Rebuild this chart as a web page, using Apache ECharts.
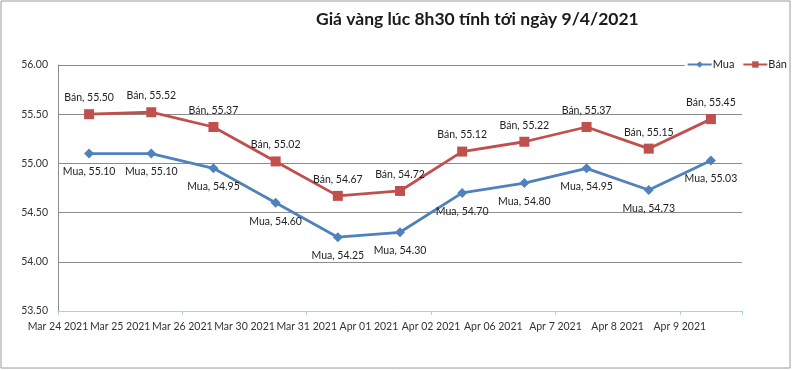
<!DOCTYPE html>
<html><head><meta charset="utf-8">
<script src="https://cdn.jsdelivr.net/npm/echarts@6/dist/echarts.min.js"></script>
<style>html,body{margin:0;padding:0;background:#fff}#c{width:800px;height:370px}</style>
</head><body><div id="c"></div>
<script>
const categories = ['Mar 24 2021','Mar 25 2021','Mar 26 2021','Mar 30 2021','Mar 31 2021','Apr 01 2021','Apr 02 2021','Apr 06 2021','Apr 7 2021','Apr 8 2021','Apr 9 2021'];
const muaValues = [55.10, 55.10, 54.95, 54.60, 54.25, 54.30, 54.70, 54.80, 54.95, 54.73, 55.03];
const banValues = [55.50, 55.52, 55.37, 55.02, 54.67, 54.72, 55.12, 55.22, 55.37, 55.15, 55.45];
const yTicks = [53.5, 54.0, 54.5, 55.0, 55.5, 56.0];
const titleText = 'Giá vàng lúc 8h30 tính tới ngày 9/4/2021';

const FONT = 'Lato, "Open Sans", sans-serif';
const chart = echarts.init(document.getElementById('c'));
const lbl = p => p.seriesName + ', ' + Number(p.value).toFixed(2);
chart.setOption({
  animation: false,
  backgroundColor: '#fff',
  title: {
    text: titleText, left: 311, top: 5,
    textStyle: {fontFamily: FONT, fontSize: 17.5, fontWeight: 'bold', color: '#1a1a1a'}
  },
  legend: {
    right: 11, top: 57, itemWidth: 24, itemHeight: 8, itemGap: 8,
    backgroundColor: '#fff', padding: [2, 2],
    textStyle: {fontFamily: FONT, fontSize: 11, color: '#222', padding: [0, 0, 0, -4]},
    data: ['Mua', 'Bán']
  },
  graphic: [{
    type: 'rect', shape: {x: 1, y: 1, width: 789, height: 367},
    style: {fill: 'none', stroke: '#9a9a9a', lineWidth: 1}, z: -1
  }],
  grid: {left: 58, right: 58, top: 65, bottom: 59},
  xAxis: [{
    type: 'category', data: categories, boundaryGap: true,
    axisLine: {lineStyle: {color: '#9fd6e3', width: 1}},
    axisTick: {show: true, length: 4, lineStyle: {color: '#9fd6e3'}},
    axisLabel: {show: false}
  }, {
    type: 'category', data: categories.concat(['']), boundaryGap: false, position: 'bottom',
    axisLine: {show: false}, axisTick: {show: false},
    axisLabel: {fontFamily: FONT, fontSize: 10.5, color: '#333', margin: 10, interval: 0}
  }],
  yAxis: {
    type: 'value', min: yTicks[0], max: yTicks[yTicks.length - 1], interval: 0.5,
    axisLine: {show: true, lineStyle: {color: '#8c8c8c'}},
    axisTick: {show: false},
    splitLine: {lineStyle: {color: '#8c8c8c', width: 1}},
    axisLabel: {fontFamily: FONT, fontSize: 10.5, color: '#333', margin: 10, formatter: v => v.toFixed(2)}
  },
  series: [{
    name: 'Mua', type: 'line', data: muaValues, xAxisIndex: 0,
    symbol: 'diamond', symbolSize: 10,
    itemStyle: {color: '#4f81bd'}, lineStyle: {color: '#4f81bd', width: 2.8},
    label: {show: true, position: 'bottom', distance: 8, formatter: lbl,
      fontFamily: FONT, fontSize: 10.5, color: '#222'}
  }, {
    name: 'Bán', type: 'line', data: banValues, xAxisIndex: 0,
    symbol: 'rect', symbolSize: 10,
    itemStyle: {color: '#c0504d'}, lineStyle: {color: '#c0504d', width: 2.8},
    label: {show: true, position: 'top', distance: 6, formatter: lbl,
      fontFamily: FONT, fontSize: 10.5, color: '#222'}
  }]
});
</script></body></html>
